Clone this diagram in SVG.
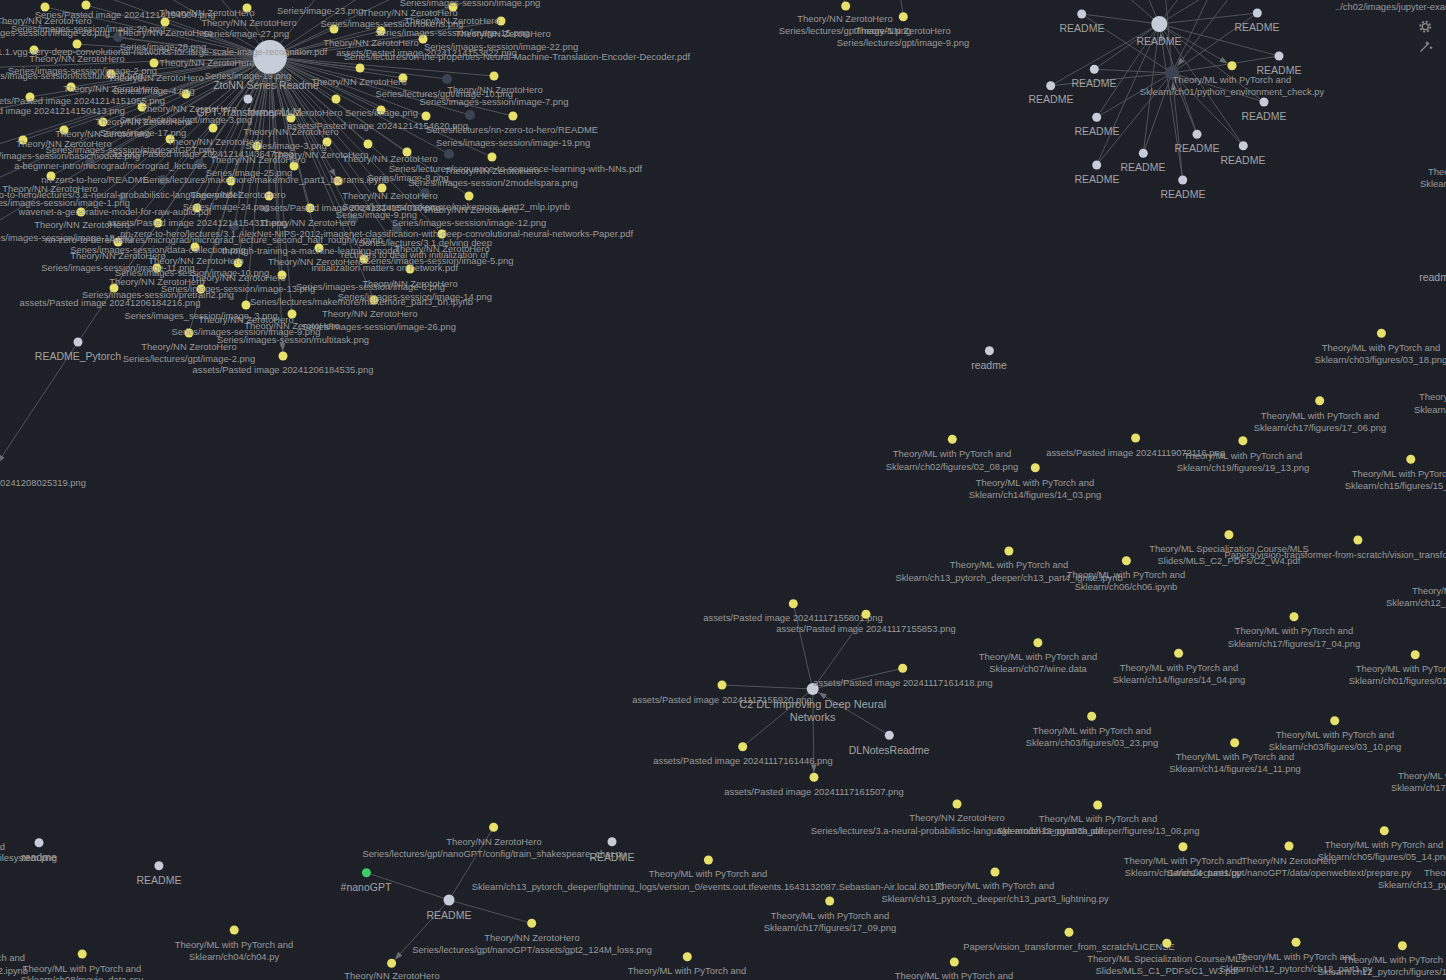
<svg xmlns="http://www.w3.org/2000/svg" width="1446" height="980" viewBox="0 0 1446 980">
<style>
.t{font-family:"Liberation Sans",Arial,sans-serif;font-size:9.4px;fill:#9a9a9a;text-anchor:middle}
.s{text-anchor:start}.en{text-anchor:end}
.n{font-family:"Liberation Sans",Arial,sans-serif;font-size:10.5px;fill:#a3a3a3;text-anchor:middle}
.e{stroke:#505459;stroke-width:1;fill:none}
.y{fill:#e7e16b}.g{fill:#c7ccd9}.d{fill:#3a4452}.gr{fill:#3ecb6a}
</style>
<defs>
<marker id="a" viewBox="0 0 8 6" markerWidth="8" markerHeight="6" refX="13" refY="3" orient="auto" markerUnits="userSpaceOnUse"><path d="M0,0L8,3L0,6z" fill="#696d73"/></marker>
<marker id="ah" viewBox="0 0 8 6" markerWidth="8" markerHeight="6" refX="17" refY="3" orient="auto" markerUnits="userSpaceOnUse"><path d="M0,0L8,3L0,6z" fill="#696d73"/></marker>
<marker id="ad" viewBox="0 0 8 6" markerWidth="8" markerHeight="6" refX="15" refY="3" orient="auto" markerUnits="userSpaceOnUse"><path d="M0,0L8,3L0,6z" fill="#696d73"/></marker>
</defs>
<rect width="1446" height="980" fill="#1d2027"/>
<g id="connectors">
<g class="e" marker-end="url(#a)">
<path d="M270 57L45 7M270 57L86 5M270 57L247 8M270 57L165 22M270 57L334 29M270 57L77 44M270 57L34 50M270 57L154 63M270 57L111 74M270 57L71 87M270 57L30 97M270 57L186 94M270 57L336 99M270 57L142 107M270 57L291 118M270 57L103 122M270 57L213 128M270 57L64 130M270 57L23 140M270 57L170 139M270 57L327 142M270 57L257 146M270 57L294 166M270 57L51 176M270 57L231 181M270 57L338 181"/>
<path d="M270 57L453 7M270 57L501 21M270 57L381 31M270 57L423 39M270 57L360 68M270 57L403 78M270 57L494 76M270 57L381 110M270 57L426 116M270 57L513 116M270 57L368 144M270 57L407 152M270 57L492 157M270 57L382 188M270 57L269 196M270 57L81 212M270 57L197 208M270 57L310 208M270 57L158 223M270 57L118 242M270 57L195 247M270 57L319 248M270 57L238 263M270 57L157 268M270 57L282 275M270 57L114 288M270 57L201 289M270 57L246 305M270 57L292 314M270 57L189 333M270 57L283 356"/>
<path d="M270 57L469 196M270 57L442 234M270 57L364 259M270 57L410 269M270 57L374 300M270 57L118 37M270 57L90 163M270 57L199 164M270 57L163 180M270 57L447 79M270 57L470 115M270 57L449 154M270 57L234 226M270 57L123 197M270 57L425 193M270 57L397 229M270 57L353 219M270 57L248 99M270 57L78 342M78 342L-5 467"/>
<path d="M270 57L-20 20M270 57L-20 68M270 57L-20 112M270 57L-20 150M270 57L-20 186M270 57L-20 232M270 57L60 -20M270 57L140 -20M270 57L205 -20M270 57L330 -20M270 57L385 -20M270 57L430 -20M845.7 6L838 -20M903.3 16.7L898 -20"/>
</g>
<g class="e" marker-end="url(#ah)">
<path d="M1081.7 14L1159.3 24M1094.3 69.3L1159.3 24M1050.7 85.7L1159.3 24M1096.7 117.3L1159.3 24M1143.3 153.3L1159.3 24M1096.7 165L1159.3 24M1257.3 13L1159.3 24M1279 56L1159.3 24M1264 102L1159.3 24M1197 134.3L1159.3 24M1243.3 145.7L1159.3 24M1182.7 180L1159.3 24"/>
<path d="M1081.7 14L1172 73M1094.3 69.3L1172 73M1050.7 85.7L1172 73M1096.7 117.3L1172 73M1143.3 153.3L1172 73M1096.7 165L1172 73M1257.3 13L1172 73M1279 56L1172 73M1264 102L1172 73M1197 134.3L1172 73M1243.3 145.7L1172 73M1182.7 180L1172 73"/>
<path d="M1120 -10L1159.3 24M1145 -10L1159.3 24M1185 -10L1159.3 24M1215 -10L1159.3 24M1165 -10L1172 73M1212 -10L1172 73M1235 -10L1172 73"/>
</g>
<g class="e" marker-end="url(#a)">
<path d="M1159.3 24L1232 65.7"/>
<path d="M812.7 689L793.3 603.7M812.7 689L866 614.3M812.7 689L902.7 668.3M812.7 689L722 685M812.7 689L742.7 746.7M812.7 689L814 777.3"/>
<path d="M449 900L366.4 872.7M449 900L493.6 827.3M449 900L531.7 923.3M449 900L391.6 963.3"/>
</g>
<path class="e" marker-end="url(#ad)" d="M889.3 735.3L812.7 689"/>
</g>
<g id="cluster-nodes">
<g id="hub-ztonn"><circle cx="270" cy="57" r="17" class="g"/></g>
<g class="y">
<circle cx="45" cy="7" r="4.5"/><circle cx="86" cy="5" r="4.5"/><circle cx="247" cy="8" r="4.5"/><circle cx="165" cy="22" r="4.5"/><circle cx="334" cy="29" r="4.5"/><circle cx="77" cy="44" r="4.5"/><circle cx="34" cy="50" r="4.5"/><circle cx="154" cy="63" r="4.5"/><circle cx="111" cy="74" r="4.5"/><circle cx="71" cy="87" r="4.5"/><circle cx="30" cy="97" r="4.5"/><circle cx="186" cy="94" r="4.5"/><circle cx="336" cy="99" r="4.5"/><circle cx="142" cy="107" r="4.5"/><circle cx="291" cy="118" r="4.5"/><circle cx="103" cy="122" r="4.5"/><circle cx="213" cy="128" r="4.5"/><circle cx="64" cy="130" r="4.5"/><circle cx="23" cy="140" r="4.5"/><circle cx="170" cy="139" r="4.5"/><circle cx="327" cy="142" r="4.5"/><circle cx="257" cy="146" r="4.5"/><circle cx="294" cy="166" r="4.5"/><circle cx="51" cy="176" r="4.5"/><circle cx="231" cy="181" r="4.5"/><circle cx="338" cy="181" r="4.5"/>
<circle cx="453" cy="7" r="4.5"/><circle cx="501" cy="21" r="4.5"/><circle cx="381" cy="31" r="4.5"/><circle cx="423" cy="39" r="4.5"/><circle cx="360" cy="68" r="4.5"/><circle cx="403" cy="78" r="4.5"/><circle cx="494" cy="76" r="4.5"/><circle cx="381" cy="110" r="4.5"/><circle cx="426" cy="116" r="4.5"/><circle cx="513" cy="116" r="4.5"/><circle cx="368" cy="144" r="4.5"/><circle cx="407" cy="152" r="4.5"/><circle cx="492" cy="157" r="4.5"/><circle cx="382" cy="188" r="4.5"/><circle cx="269" cy="196" r="4.5"/><circle cx="81" cy="212" r="4.5"/><circle cx="197" cy="208" r="4.5"/><circle cx="310" cy="208" r="4.5"/><circle cx="158" cy="223" r="4.5"/><circle cx="118" cy="242" r="4.5"/><circle cx="195" cy="247" r="4.5"/><circle cx="319" cy="248" r="4.5"/><circle cx="238" cy="263" r="4.5"/><circle cx="157" cy="268" r="4.5"/><circle cx="282" cy="275" r="4.5"/><circle cx="114" cy="288" r="4.5"/><circle cx="201" cy="289" r="4.5"/><circle cx="246" cy="305" r="4.5"/><circle cx="292" cy="314" r="4.5"/><circle cx="189" cy="333" r="4.5"/><circle cx="283" cy="356" r="4.5"/><circle cx="469" cy="196" r="4.5"/><circle cx="442" cy="234" r="4.5"/><circle cx="364" cy="259" r="4.5"/><circle cx="410" cy="269" r="4.5"/><circle cx="374" cy="300" r="4.5"/><circle cx="-5" cy="467" r="4.5"/>
</g>
<g class="d">
<circle cx="118" cy="37" r="5"/><circle cx="90" cy="163" r="5"/><circle cx="199" cy="164" r="5"/><circle cx="163" cy="180" r="5"/><circle cx="447" cy="79" r="5"/><circle cx="470" cy="115" r="5"/><circle cx="449" cy="154" r="5"/><circle cx="234" cy="226" r="5"/><circle cx="123" cy="197" r="5"/><circle cx="425" cy="193" r="5"/><circle cx="397" cy="229" r="5"/><circle cx="353" cy="219" r="5"/>
</g>
<g id="gpt-transformer"><circle cx="248" cy="99" r="4.5" class="g"/></g>
<g id="readme-pytorch"><circle cx="78" cy="342" r="4.5" class="g"/></g>
</g>
<g id="cluster-labels">
<text class="t" x="470" y="6">Series/images-session/image.png</text>
<text class="t" x="125" y="18">Series/Pasted image 20241214194904.png</text>
<text class="t" x="207" y="16">Theory/NN ZerotoHero</text>
<text class="t s" x="277" y="14">Series/image-23.png</text>
<text class="t" x="410" y="16">Theory/NN ZerotoHero</text>
<text class="t" x="44" y="24">Theory/NN ZerotoHero</text>
<text class="t" x="249" y="26">Theory/NN ZerotoHero</text>
<text class="t" x="452" y="24">Theory/NN ZerotoHero</text>
<text class="t" x="392" y="27">Series/images-session/tokens.png</text>
<text class="t" x="88" y="32">Series/images-session/image-20.png</text>
<text class="t en" x="110" y="36">Series/images-session/image-28.png</text>
<text class="t" x="165" y="36">Theory/NN ZerotoHero</text>
<text class="t" x="246" y="37">Series/image-27.png</text>
<text class="t" x="452" y="36">Series/images-session/image-15.png</text>
<text class="t" x="503" y="37">Theory/NN ZerotoHero</text>
<text class="t" x="371" y="46">Theory/NN ZerotoHero</text>
<text class="t" x="501" y="50">Series/images-session/image-22.png</text>
<text class="t" x="163" y="50">Series/image-28.png</text>
<text class="t s" x="-3" y="55">1.1.vgg-very-deep-convolutional-networks-for-large-scale-image-recognition.pdf</text>
<text class="t en" x="517" y="56">assets/Pasted image 20241214153822.png</text>
<text class="t en" x="690" y="60">Series/lectures/on-the-properties-Neural-Machine-Translation-Encoder-Decoder.pdf</text>
<text class="t" x="77" y="62">Theory/NN ZerotoHero</text>
<text class="t" x="207" y="66">Theory/NN ZerotoHero</text>
<text class="t en" x="157" y="74">Series/images-session/image-2.png</text>
<text class="t en" x="143" y="79">Series/images-session/lossfunction.png</text>
<text class="t" x="156" y="81">Theory/NN ZerotoHero</text>
<text class="t" x="248" y="79">Series/image-19.png</text>
<text class="t" x="359" y="85">Theory/NN ZerotoHero</text>
<text class="n" x="266" y="89">ZtoNN Series Readme</text>
<text class="t" x="111" y="92">Theory/NN ZerotoHero</text>
<text class="t" x="154" y="94">Series/image-4.png</text>
<text class="t en" x="165" y="104">assets/Pasted image 20241214151055.png</text>
<text class="t" x="495" y="93">Theory/NN ZerotoHero</text>
<text class="t en" x="513" y="97">Series/lectures/gpt/image-10.png</text>
<text class="t" x="494" y="105">Series/images-session/image-7.png</text>
<text class="t en" x="125" y="114">assets/Pasted image 20241214150413.png</text>
<text class="t" x="189" y="112">Theory/NN ZerotoHero</text>
<text class="n" x="249" y="116">GPT-Transformer-LLM</text>
<text class="t s" x="247" y="116">Theory/NN ZerotoHero Series/image.png</text>
<text class="t" x="186" y="123">Series/lectures/gpt/image-3.png</text>
<text class="t" x="143" y="125">Theory/NN ZerotoHero</text>
<text class="t s" x="287" y="129">assets/Pasted image 20241214154620.png</text>
<text class="t en" x="598" y="133">Series/lectures/nn-zero-to-hero/README</text>
<text class="t" x="291" y="135">Theory/NN ZerotoHero</text>
<text class="t" x="103" y="137">Theory/NN ZerotoHero</text>
<text class="t" x="143" y="136">Series/image-17.png</text>
<text class="t" x="215" y="145">Theory/NN ZerotoHero</text>
<text class="t" x="513" y="146">Series/images-session/image-19.png</text>
<text class="t" x="64" y="147">Theory/NN ZerotoHero</text>
<text class="t" x="286" y="149">Series/image-3.png</text>
<text class="t" x="130" y="153">Series/images-session/stagesofGPT.png</text>
<text class="t en" x="140" y="159">Series/images-session/basicmodel2.png</text>
<text class="t" x="203" y="157">assets/Pasted image 20241214143647.png</text>
<text class="t s" x="273" y="158">Theory/NN ZerotoHero</text>
<text class="t" x="258" y="163">Theory/NN ZerotoHero</text>
<text class="t" x="390" y="162">Theory/NN ZerotoHero</text>
<text class="t en" x="207" y="169">a-beginner-intro/micrograd/micrograd_lectures</text>
<text class="t en" x="642" y="172">Series/lectures/sequence-to-sequence-learning-with-NNs.pdf</text>
<text class="t" x="492" y="174">Theory/NN ZerotoHero</text>
<text class="t" x="249" y="176">Series/image-25.png</text>
<text class="t" x="95" y="183">nn-zero-to-hero/README</text>
<text class="t s" x="143" y="183">Series/lectures/makemore/makemore_part1_bigrams.ipynb</text>
<text class="t" x="408" y="181">Series/image-8.png</text>
<text class="t" x="493" y="186">Series/images-session/2modelspara.png</text>
<text class="t" x="50" y="192">Theory/NN ZerotoHero</text>
<text class="t en" x="240" y="198">nn-zero-to-hero/lectures/3.a-neural-probabilistic-language-model</text>
<text class="t" x="238" y="198">Theory/NN ZerotoHero</text>
<text class="t" x="390" y="199">Theory/NN ZerotoHero</text>
<text class="t en" x="130" y="206">Series/images-session/image-1.png</text>
<text class="t" x="226" y="210">Series/image-24.png</text>
<text class="t s" x="260" y="211">assets/Pasted image 20241214154010.png</text>
<text class="t en" x="570" y="210">Series/lectures/makemore/makemore_part2_mlp.ipynb</text>
<text class="t" x="470" y="213">Theory/NN ZerotoHero</text>
<text class="t" x="115" y="215">wavenet-a-generative-model-for-raw-audio.pdf</text>
<text class="t en" x="417" y="218">Series/image-9.png</text>
<text class="t" x="82" y="228">Theory/NN ZerotoHero</text>
<text class="t" x="197" y="226">assets/Pasted image 20241214154311.png</text>
<text class="t s" x="260" y="226">Theory/NN ZerotoHero</text>
<text class="t" x="469" y="226">Series/images-session/image-12.png</text>
<text class="t en" x="633" y="237">nn-zero-to-hero/lectures/3.1.AlexNet-NIPS-2012-imagenet-classification-with-deep-convolutional-neural-networks-Paper.pdf</text>
<text class="t en" x="133" y="241">Series/images-session/image-18.png</text>
<text class="t s" x="45" y="243">nn-zero-to-hero/lectures/micrograd/micrograd_lecture_second_half_roughly.ipynb</text>
<text class="t en" x="492" y="246">Series/lectures/3.1.delving deep</text>
<text class="t" x="442" y="252">Theory/NN ZerotoHero</text>
<text class="t" x="158" y="253">Series/images-session/data-collection.png</text>
<text class="t s" x="222" y="254">through-training-a-machine-learning-model</text>
<text class="t en" x="488" y="258">rectifiers to deal with initialization of</text>
<text class="t" x="118" y="259">Theory/NN ZerotoHero</text>
<text class="t" x="196" y="264">Theory/NN ZerotoHero</text>
<text class="t s" x="268" y="265">Theory/NN ZerotoHero</text>
<text class="t" x="439" y="264">Series/images-session/image-5.png</text>
<text class="t" x="118" y="271">Series/images-session/image-11.png</text>
<text class="t en" x="458" y="271">initialization matters on network.pdf</text>
<text class="t" x="192" y="276">Series/images-session/image-10.png</text>
<text class="t" x="238" y="281">Theory/NN ZerotoHero</text>
<text class="t" x="157" y="285">Theory/NN ZerotoHero</text>
<text class="t" x="410" y="287">Theory/NN ZerotoHero</text>
<text class="t" x="238" y="292">Series/images-session/image-13.png</text>
<text class="t en" x="445" y="290">Series/images-session/image-6.png</text>
<text class="t" x="158" y="298">Series/images-session/pretrain2.png</text>
<text class="t en" x="492" y="300">Series/images-session/image-14.png</text>
<text class="t" x="110" y="306">assets/Pasted image 20241206184216.png</text>
<text class="t en" x="473" y="305">Series/lectures/makemore/makemore_part3_bn.ipynb</text>
<text class="t" x="201" y="319">Series/images_session/image_3.png</text>
<text class="t" x="246" y="323">Theory/NN ZerotoHero</text>
<text class="t s" x="322" y="317">Theory/NN ZerotoHero</text>
<text class="t" x="292" y="329">Theory/NN ZerotoHero</text>
<text class="t en" x="456" y="330">Series/images-session/image-26.png</text>
<text class="t" x="246" y="335">Series/images-session/image-9.png</text>
<text class="t" x="293" y="343">Series/images-session/multitask.png</text>
<text class="t" x="189" y="350">Theory/NN ZerotoHero</text>
<text class="n" x="78" y="360">README_Pytorch</text>
<text class="t" x="189" y="362">Series/lectures/gpt/image-2.png</text>
<text class="t" x="283" y="373">assets/Pasted image 20241206184535.png</text>
<text class="t en" x="86" y="486">assets/Pasted image 20241208025319.png</text>
</g>
<g id="top-nodes">
<g id="n-gpt-image-1"><circle cx="845.7" cy="6" r="4.5" class="y"/><text class="t" x="845" y="22">Theory/NN ZerotoHero</text><text class="t" x="845" y="34">Series/lectures/gpt/image-1.png</text></g>
<g id="n-gpt-image-9"><circle cx="903.3" cy="16.7" r="4.5" class="y"/><text class="t" x="903" y="34">Theory/NN ZerotoHero</text><text class="t" x="903" y="46">Series/lectures/gpt/image-9.png</text></g>
</g>
<g id="readme-cluster">
<g id="n-readme-hub"><circle cx="1159.3" cy="24" r="8" class="g"/><text class="n" x="1159" y="45">README</text></g>
<g id="n-ch01-dir"><circle cx="1172" cy="73" r="7" class="d"/></g>
<g id="n-r1"><circle cx="1081.7" cy="14" r="4.5" class="g"/><text class="n" x="1082" y="32">README</text></g>
<g id="n-r2"><circle cx="1094.3" cy="69.3" r="4.5" class="g"/><text class="n" x="1094" y="87">README</text></g>
<g id="n-r3"><circle cx="1050.7" cy="85.7" r="4.5" class="g"/><text class="n" x="1051" y="103">README</text></g>
<g id="n-r4"><circle cx="1096.7" cy="117.3" r="4.5" class="g"/><text class="n" x="1097" y="135">README</text></g>
<g id="n-r5"><circle cx="1143.3" cy="153.3" r="4.5" class="g"/><text class="n" x="1143" y="171">README</text></g>
<g id="n-r6"><circle cx="1096.7" cy="165" r="4.5" class="g"/><text class="n" x="1097" y="183">README</text></g>
<g id="n-r7"><circle cx="1257.3" cy="13" r="4.5" class="g"/><text class="n" x="1257" y="31">README</text></g>
<g id="n-r8"><circle cx="1279" cy="56" r="4.5" class="g"/><text class="n" x="1279" y="74">README</text></g>
<g id="n-r9"><circle cx="1264" cy="102" r="4.5" class="g"/><text class="n" x="1264" y="120">README</text></g>
<g id="n-r10"><circle cx="1197" cy="134.3" r="4.5" class="g"/><text class="n" x="1197" y="152">README</text></g>
<g id="n-r11"><circle cx="1243.3" cy="145.7" r="4.5" class="g"/><text class="n" x="1243" y="164">README</text></g>
<g id="n-r12"><circle cx="1182.7" cy="180" r="4.5" class="g"/><text class="n" x="1183" y="198">README</text></g>
<g id="n-envcheck"><circle cx="1232" cy="65.7" r="4.5" class="y"/><text class="t" x="1232" y="83">Theory/ML with PyTorch and</text><text class="t" x="1232" y="95">Sklearn/ch01/python_environment_check.py</text></g>
</g>
<g id="edge-labels-right">
<text class="t s" x="1335" y="10">../ch02/images/jupyter-example-1.png</text>
<text class="t s" x="1428" y="175">Theory/ML with PyTorch and</text>
<text class="t s" x="1420" y="187">Sklearn/ch02/figures/02_04.png</text>
<text class="n s" x="1437" y="281">readme</text>
<text class="t s" x="1419" y="400">Theory/ML with PyTorch and</text>
<text class="t s" x="1414" y="413">Sklearn/ch03/figures/03_07.png</text>
<text class="t s" x="1412" y="594">Theory/ML with PyTorch and</text>
<text class="t s" x="1386" y="606">Sklearn/ch12_pytorch/ch12_part2.ipynb</text>
<text class="t s" x="1398" y="779">Theory/ML with PyTorch and</text>
<text class="t s" x="1391" y="791">Sklearn/ch17/figures/17_02.png</text>
<text class="t s" x="1424" y="876">Theory/ML with PyTorch and</text>
<text class="t s" x="1378" y="888">Sklearn/ch13_pytorch_deeper/ch13_part2.ipynb</text>
</g>
<g id="controls" stroke="#8c8c8c" fill="none">
<circle cx="1425.3" cy="26.7" r="3" stroke-width="1.3"/>
<circle cx="1425.3" cy="26.7" r="5" stroke-width="1.8" stroke-dasharray="2 1.9"/>
<path d="M1420.5 51.5L1429 43M1427 41.5v3M1425.5 43h3M1431 46.5v2.5M1429.8 47.7h2.5" stroke-width="1.2"/>
</g>
<g id="mid-right">
<g id="n-readme-mid"><circle cx="989.4" cy="350.7" r="4.5" class="g"/><text class="n" x="989" y="369">readme</text></g>
<g id="n-02-08"><circle cx="952.3" cy="439.3" r="4.5" class="y"/><text class="t" x="952" y="456.5">Theory/ML with PyTorch and</text><text class="t" x="952" y="469.5">Sklearn/ch02/figures/02_08.png</text></g>
<g id="n-14-03"><circle cx="1035.3" cy="467.7" r="4.5" class="y"/><text class="t" x="1035" y="485.5">Theory/ML with PyTorch and</text><text class="t" x="1035" y="497.5">Sklearn/ch14/figures/14_03.png</text></g>
<g id="n-pasted-0721"><circle cx="1135.6" cy="438" r="4.5" class="y"/><text class="t" x="1135.6" y="455.5">assets/Pasted image 20241119072116.png</text></g>
<g id="n-19-13"><circle cx="1242.9" cy="440.7" r="4.5" class="y"/><text class="t" x="1243" y="458.5">Theory/ML with PyTorch and</text><text class="t" x="1243" y="470.5">Sklearn/ch19/figures/19_13.png</text></g>
<g id="n-17-06"><circle cx="1319.7" cy="400.7" r="4.5" class="y"/><text class="t" x="1320" y="418.5">Theory/ML with PyTorch and</text><text class="t" x="1320" y="430.5">Sklearn/ch17/figures/17_06.png</text></g>
<g id="n-03-18"><circle cx="1381.4" cy="333.3" r="4.5" class="y"/><text class="t" x="1381" y="350.5">Theory/ML with PyTorch and</text><text class="t" x="1381" y="362.5">Sklearn/ch03/figures/03_18.png</text></g>
<g id="n-15"><circle cx="1410.8" cy="459.3" r="4.5" class="y"/><text class="t" x="1411" y="477">Theory/ML with PyTorch and</text><text class="t" x="1411" y="489">Sklearn/ch15/figures/15_01.png</text></g>
<g id="n-ignite"><circle cx="1008.9" cy="551" r="4.5" class="y"/><text class="t" x="1009" y="568">Theory/ML with PyTorch and</text><text class="t" x="1009" y="580.5">Sklearn/ch13_pytorch_deeper/ch13_part4_ignite.ipynb</text></g>
<g id="n-ch06"><circle cx="1126.4" cy="560.7" r="4.5" class="y"/><text class="t" x="1126" y="577.5">Theory/ML with PyTorch and</text><text class="t" x="1126" y="590">Sklearn/ch06/ch06.ipynb</text></g>
<g id="n-c2w4"><circle cx="1228.9" cy="534.7" r="4.5" class="y"/><text class="t" x="1229" y="551.5">Theory/ML Specialization Course/MLS</text><text class="t" x="1229" y="564">Slides/MLS_C2_PDFs/C2_W4.pdf</text></g>
<g id="n-vit"><circle cx="1357.9" cy="540" r="4.5" class="y"/><text class="t" x="1358" y="557.5">Papers/vision-transformer-from-scratch/vision_transformer.ipynb</text></g>
<g id="n-17-04"><circle cx="1294" cy="616.7" r="4.5" class="y"/><text class="t" x="1294" y="634">Theory/ML with PyTorch and</text><text class="t" x="1294" y="647">Sklearn/ch17/figures/17_04.png</text></g>
<g id="n-wine"><circle cx="1037.9" cy="642.7" r="4.5" class="y"/><text class="t" x="1038" y="660">Theory/ML with PyTorch and</text><text class="t" x="1038" y="672">Sklearn/ch07/wine.data</text></g>
<g id="n-14-04"><circle cx="1178.6" cy="653.3" r="4.5" class="y"/><text class="t" x="1179" y="670.5">Theory/ML with PyTorch and</text><text class="t" x="1179" y="683">Sklearn/ch14/figures/14_04.png</text></g>
<g id="n-01-02"><circle cx="1415.2" cy="654.7" r="4.5" class="y"/><text class="t" x="1415" y="672">Theory/ML with PyTorch and</text><text class="t" x="1415" y="684">Sklearn/ch01/figures/01_02.png</text></g>
<g id="n-03-23"><circle cx="1091.7" cy="716.3" r="4.5" class="y"/><text class="t" x="1092" y="733.5">Theory/ML with PyTorch and</text><text class="t" x="1092" y="746">Sklearn/ch03/figures/03_23.png</text></g>
<g id="n-14-11"><circle cx="1234.7" cy="742.7" r="4.5" class="y"/><text class="t" x="1235" y="760">Theory/ML with PyTorch and</text><text class="t" x="1235" y="772">Sklearn/ch14/figures/14_11.png</text></g>
<g id="n-03-10"><circle cx="1334.7" cy="720.7" r="4.5" class="y"/><text class="t" x="1335" y="738">Theory/ML with PyTorch and</text><text class="t" x="1335" y="750">Sklearn/ch03/figures/03_10.png</text></g>
<g id="n-13-08"><circle cx="1097.7" cy="805" r="4.5" class="y"/><text class="t" x="1098" y="822">Theory/ML with PyTorch and</text><text class="t" x="1098" y="834">Sklearn/ch13_pytorch_deeper/figures/13_08.png</text></g>
<g id="n-05-14"><circle cx="1384.3" cy="830.7" r="4.5" class="y"/><text class="t" x="1384" y="848">Theory/ML with PyTorch and</text><text class="t" x="1384" y="860">Sklearn/ch05/figures/05_14.png</text></g>
</g>
<g id="c2-group">
<g id="n-c2"><circle cx="812.7" cy="689" r="6" class="g"/><text class="n" x="812.7" y="708" style="font-size:11px">C2 DL Improving Deep Neural</text><text class="n" x="812.7" y="721" style="font-size:11px">Networks</text></g>
<g id="n-p155801"><circle cx="793.3" cy="603.7" r="4.5" class="y"/><text class="t" x="793" y="621">assets/Pasted image 20241117155801.png</text></g>
<g id="n-p155853"><circle cx="866" cy="614.3" r="4.5" class="y"/><text class="t" x="866" y="632">assets/Pasted image 20241117155853.png</text></g>
<g id="n-p161418"><circle cx="902.7" cy="668.3" r="4.5" class="y"/><text class="t" x="903" y="685.5">assets/Pasted image 20241117161418.png</text></g>
<g id="n-p155920"><circle cx="722" cy="685" r="4.5" class="y"/><text class="t" x="722" y="702.5">assets/Pasted image 20241117155920.png</text></g>
<g id="n-p161446"><circle cx="742.7" cy="746.7" r="4.5" class="y"/><text class="t" x="743" y="764">assets/Pasted image 20241117161446.png</text></g>
<g id="n-p161507"><circle cx="814" cy="777.3" r="4.5" class="y"/><text class="t" x="814" y="794.5">assets/Pasted image 20241117161507.png</text></g>
<g id="n-dlnotes"><circle cx="889.3" cy="735.3" r="4.5" class="g"/><text class="n" x="889" y="754">DLNotesReadme</text></g>
</g>
<g id="bottom">
<g id="n-bengio"><circle cx="957" cy="804" r="4.5" class="y"/><text class="t" x="957" y="821">Theory/NN ZerotoHero</text><text class="t" x="957" y="834">Series/lectures/3.a-neural-probabilistic-language-model-bengio03a.pdf</text></g>
<g id="n-ch14p1"><circle cx="1183" cy="846.7" r="4.5" class="y"/><text class="t" x="1183" y="864">Theory/ML with PyTorch and</text><text class="t" x="1183" y="876">Sklearn/ch14/ch14_part1.py</text></g>
<g id="n-prepare"><circle cx="1289" cy="846" r="4.5" class="y"/><text class="t" x="1289" y="864">Theory/NN ZerotoHero</text><text class="t" x="1289" y="876">Series/lectures/gpt/nanoGPT/data/openwebtext/prepare.py</text></g>
<g id="n-lightning"><circle cx="995" cy="872" r="4.5" class="y"/><text class="t" x="995" y="889">Theory/ML with PyTorch and</text><text class="t" x="995" y="901.5">Sklearn/ch13_pytorch_deeper/ch13_part3_lightning.py</text></g>
<g id="n-17-09"><circle cx="829.7" cy="901" r="4.5" class="y"/><text class="t" x="830" y="918.5">Theory/ML with PyTorch and</text><text class="t" x="830" y="930.5">Sklearn/ch17/figures/17_09.png</text></g>
<g id="n-license"><circle cx="1069" cy="932.3" r="4.5" class="y"/><text class="t" x="1069" y="949.5">Papers/vision_transformer_from_scratch/LICENSE</text></g>
<g id="n-c1w3"><circle cx="1166.8" cy="943.3" r="4.5" class="y"/><text class="t" x="1167" y="961.5">Theory/ML Specialization Course/MLS</text><text class="t" x="1167" y="973.5">Slides/MLS_C1_PDFs/C1_W3.pdf</text></g>
<g id="n-ch12p1"><circle cx="1296" cy="942.3" r="4.5" class="y"/><text class="t" x="1296" y="960">Theory/ML with PyTorch and</text><text class="t" x="1296" y="972">Sklearn/ch12_pytorch/ch12_part1.py</text></g>
<g id="n-ch12fig"><circle cx="1402.4" cy="945.7" r="4.5" class="y"/><text class="t" x="1402" y="963">Theory/ML with PyTorch and</text><text class="t" x="1402" y="975">Sklearn/ch12_pytorch/figures/12_01.png</text></g>
<g id="n-b954"><circle cx="954.3" cy="962" r="4.5" class="y"/><text class="t" x="954" y="979">Theory/ML with PyTorch and</text></g>
<g id="n-shakespeare"><circle cx="493.6" cy="827.3" r="4.5" class="y"/><text class="t" x="494" y="845">Theory/NN ZerotoHero</text><text class="t" x="494" y="857">Series/lectures/gpt/nanoGPT/config/train_shakespeare_char.py</text></g>
<g id="n-readme-612"><circle cx="612" cy="841.7" r="4.5" class="g"/><text class="n" x="612" y="860.5">README</text></g>
<g id="n-nanogpt-tag"><circle cx="366.4" cy="872.7" r="4.5" class="gr"/><text class="n" x="366" y="891">#nanoGPT</text></g>
<g id="n-nanogpt-readme"><circle cx="449" cy="900" r="5.5" class="g"/><text class="n" x="449" y="919">README</text></g>
<g id="n-loss"><circle cx="531.7" cy="923.3" r="4.5" class="y"/><text class="t" x="532" y="941">Theory/NN ZerotoHero</text><text class="t" x="532" y="953">Series/lectures/gpt/nanoGPT/assets/gpt2_124M_loss.png</text></g>
<g id="n-b392"><circle cx="391.6" cy="963.3" r="4.5" class="y"/><text class="t" x="392" y="979">Theory/NN ZerotoHero</text></g>
<g id="n-tfevents"><circle cx="708.4" cy="860" r="4.5" class="y"/><text class="t" x="708" y="877">Theory/ML with PyTorch and</text><text class="t" x="708" y="890">Sklearn/ch13_pytorch_deeper/lightning_logs/version_0/events.out.tfevents.1643132087.Sebastian-Air.local.80110</text></g>
<g id="n-readme-39"><circle cx="39" cy="842.7" r="4.5" class="g"/><text class="n" x="39" y="861">readme</text></g>
<g id="n-readme-159"><circle cx="158.9" cy="865.7" r="4.5" class="g"/><text class="n" x="159" y="884">README</text></g>
<g id="n-ch04"><circle cx="234.2" cy="930" r="4.5" class="y"/><text class="t" x="234" y="947.5">Theory/ML with PyTorch and</text><text class="t" x="234" y="960">Sklearn/ch04/ch04.py</text></g>
<g id="n-ch08"><circle cx="82.2" cy="954" r="4.5" class="y"/><text class="t" x="82" y="971.5">Theory/ML with PyTorch and</text><text class="t" x="82" y="983">Sklearn/ch08/movie_data.csv</text></g>
<g id="n-b687"><circle cx="687.3" cy="956.7" r="4.5" class="y"/><text class="t" x="687" y="974">Theory/ML with PyTorch and</text></g>
<text class="t en" x="5" y="850">Theory/ML with PyTorch and</text>
<text class="t en" x="57" y="861">a-filesystem.png</text>
<text class="t en" x="25" y="961">Theory/ML with PyTorch and</text>
<text class="t en" x="28" y="974">Sklearn/ch12/ch12.ipynb</text>
</g>
</svg>
